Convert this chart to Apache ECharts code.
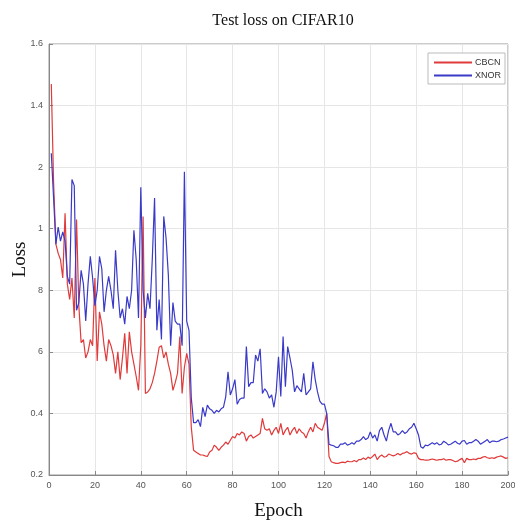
<!DOCTYPE html>
<html><head><meta charset="utf-8">
<script src="https://cdn.jsdelivr.net/npm/echarts@6/dist/echarts.min.js"></script>
<style>html,body{margin:0;padding:0;background:#fff}#c{width:515px;height:525px}</style>
</head><body><div id="c"></div>
<script>
const titleText = 'Test loss on CIFAR10';
const xName = 'Epoch';
const yName = 'Loss';
const seriesNames = ['CBCN', 'XNOR'];
const xTicks = [0,20,40,60,80,100,120,140,160,180,200];
// tick labels as printed in the reference, from 0.2 to 1.6
const yTickLabels = ['0.2','0.4','6','8','1','2','1.4','1.6'];
const epochs = Array.from({length:200},(_, i)=>i+1);
const cbcn = [
1.47,1.15,0.95,0.92,0.90,0.84,1.05,0.82,0.77,0.84,
0.71,1.03,0.75,0.63,0.64,0.58,0.60,0.64,0.62,0.84,
0.57,0.73,0.69,0.62,0.57,0.64,0.62,0.59,0.53,0.60,
0.51,0.58,0.66,0.53,0.665,0.60,0.56,0.52,0.475,0.62,
1.04,0.465,0.47,0.48,0.50,0.53,0.57,0.615,0.62,0.58,
0.60,0.56,0.53,0.475,0.50,0.53,0.65,0.465,0.55,0.595,
0.56,0.355,0.28,0.275,0.27,0.265,0.265,0.262,0.26,0.275,
0.28,0.297,0.29,0.28,0.29,0.297,0.307,0.30,0.313,0.325,
0.32,0.335,0.33,0.34,0.335,0.31,0.325,0.33,0.32,0.325,
0.33,0.335,0.384,0.35,0.345,0.35,0.33,0.345,0.355,0.335,
0.368,0.33,0.345,0.355,0.33,0.345,0.355,0.335,0.35,0.34,
0.335,0.32,0.34,0.355,0.34,0.368,0.355,0.35,0.345,0.368,
0.40,0.26,0.243,0.24,0.238,0.238,0.24,0.242,0.24,0.245,
0.243,0.243,0.247,0.243,0.25,0.25,0.255,0.25,0.258,0.254,
0.26,0.268,0.25,0.26,0.265,0.258,0.26,0.268,0.265,0.262,
0.265,0.27,0.265,0.27,0.272,0.276,0.27,0.268,0.272,0.27,
0.254,0.25,0.25,0.248,0.248,0.25,0.252,0.25,0.248,0.25,
0.25,0.253,0.248,0.25,0.25,0.247,0.243,0.245,0.25,0.254,
0.24,0.254,0.25,0.25,0.252,0.25,0.254,0.254,0.258,0.26,
0.256,0.254,0.256,0.254,0.258,0.26,0.262,0.258,0.254,0.256
];
const xnor = [
1.245,1.10,0.95,1.005,0.96,0.99,0.96,0.845,0.82,1.16,
1.14,0.735,0.76,0.865,0.82,0.70,0.82,0.91,0.84,0.75,
0.80,0.91,0.87,0.73,0.80,0.845,0.80,0.74,0.93,0.80,
0.71,0.74,0.69,0.78,0.74,0.80,0.995,0.90,0.71,1.135,
0.80,0.71,0.79,0.74,0.90,1.10,0.67,0.77,0.64,1.04,
0.97,0.85,0.62,0.76,0.70,0.69,0.69,0.62,1.185,0.70,
0.67,0.45,0.37,0.37,0.38,0.357,0.42,0.39,0.427,0.415,
0.41,0.40,0.41,0.405,0.415,0.42,0.454,0.535,0.46,0.48,
0.51,0.43,0.445,0.45,0.45,0.617,0.487,0.50,0.50,0.59,
0.57,0.61,0.465,0.48,0.47,0.45,0.46,0.42,0.47,0.584,
0.455,0.65,0.487,0.617,0.58,0.54,0.47,0.49,0.48,0.47,
0.53,0.46,0.47,0.48,0.568,0.51,0.47,0.44,0.43,0.43,
0.40,0.30,0.297,0.295,0.29,0.29,0.30,0.30,0.305,0.297,
0.30,0.305,0.30,0.31,0.31,0.315,0.325,0.315,0.32,0.34,
0.32,0.33,0.31,0.344,0.355,0.33,0.31,0.345,0.368,0.34,
0.34,0.33,0.335,0.344,0.335,0.34,0.35,0.355,0.368,0.35,
0.33,0.292,0.287,0.297,0.295,0.30,0.305,0.30,0.305,0.298,
0.30,0.31,0.305,0.298,0.30,0.305,0.31,0.303,0.30,0.31,
0.312,0.30,0.305,0.305,0.31,0.315,0.31,0.30,0.305,0.31,
0.315,0.305,0.31,0.31,0.308,0.31,0.315,0.317,0.32,0.323
];

const chart = echarts.init(document.getElementById('c'), null, {renderer:'canvas'});
const tickFont = {color:'#555', fontSize:9, fontFamily:'Liberation Sans, Arial, sans-serif'};
chart.setOption({
  animation:false,
  backgroundColor:'#fff',
  title:{text:titleText, left:278, top:8, textAlign:'center',
    textStyle:{fontFamily:'Liberation Serif, Times New Roman, serif', fontWeight:'normal', fontSize:16, color:'#111'}},
  grid:{left:49, right:7, top:44, bottom:50, containLabel:false, outerBoundsMode:'none',
    show:true, borderColor:'#999', borderWidth:1, backgroundColor:'transparent'},
  legend:{data:seriesNames, orient:'vertical', right:10, top:53, itemWidth:38, itemHeight:2, itemGap:4,
    icon:'rect', borderColor:'#bbb', borderWidth:1, padding:[5,4,4,6], backgroundColor:'#fff',
    textStyle:{fontSize:9, color:'#333', fontFamily:'Liberation Sans, Arial, sans-serif', padding:[0,0,0,-2]}},
  xAxis:{type:'value', min:0, max:200, interval:20,
    name:xName, nameLocation:'middle', nameGap:27, nameMoveOverlap:false,
    nameTextStyle:{fontFamily:'Liberation Serif, Times New Roman, serif', fontSize:19, color:'#111'},
    axisLine:{lineStyle:{color:'#888'}}, axisTick:{inside:true, length:4, lineStyle:{color:'#888'}},
    axisLabel:Object.assign({margin:6, formatter:(v)=>xTicks.includes(v)?String(v):''}, tickFont),
    splitLine:{show:true, lineStyle:{color:'#e6e6e6'}}},
  yAxis:{type:'value', min:0.2, max:1.6, interval:0.2,
    name:yName, nameLocation:'middle', nameGap:19, nameRotate:90, nameMoveOverlap:false,
    nameTextStyle:{fontFamily:'Liberation Serif, Times New Roman, serif', fontSize:19, color:'#111'},
    axisLine:{show:true, lineStyle:{color:'#888'}}, axisTick:{show:true, inside:true, length:4, lineStyle:{color:'#888'}},
    axisLabel:Object.assign({margin:6, formatter:(v)=>{const i=Math.round(v*5)-1; return yTickLabels[i]||'';}}, tickFont),
    splitLine:{show:true, lineStyle:{color:'#e6e6e6'}}},
  series:[
    {name:seriesNames[0], type:'line', showSymbol:false, symbol:'none', color:'#e03a3a',
      lineStyle:{width:1.2, color:'#e03a3a'}, data:epochs.map((e,i)=>[e,cbcn[i]]), z:2},
    {name:seriesNames[1], type:'line', showSymbol:false, symbol:'none', color:'#3a3ac8',
      lineStyle:{width:1.2, color:'#3a3ac8'}, data:epochs.map((e,i)=>[e,xnor[i]]), z:3}
  ]
});
</script></body></html>
